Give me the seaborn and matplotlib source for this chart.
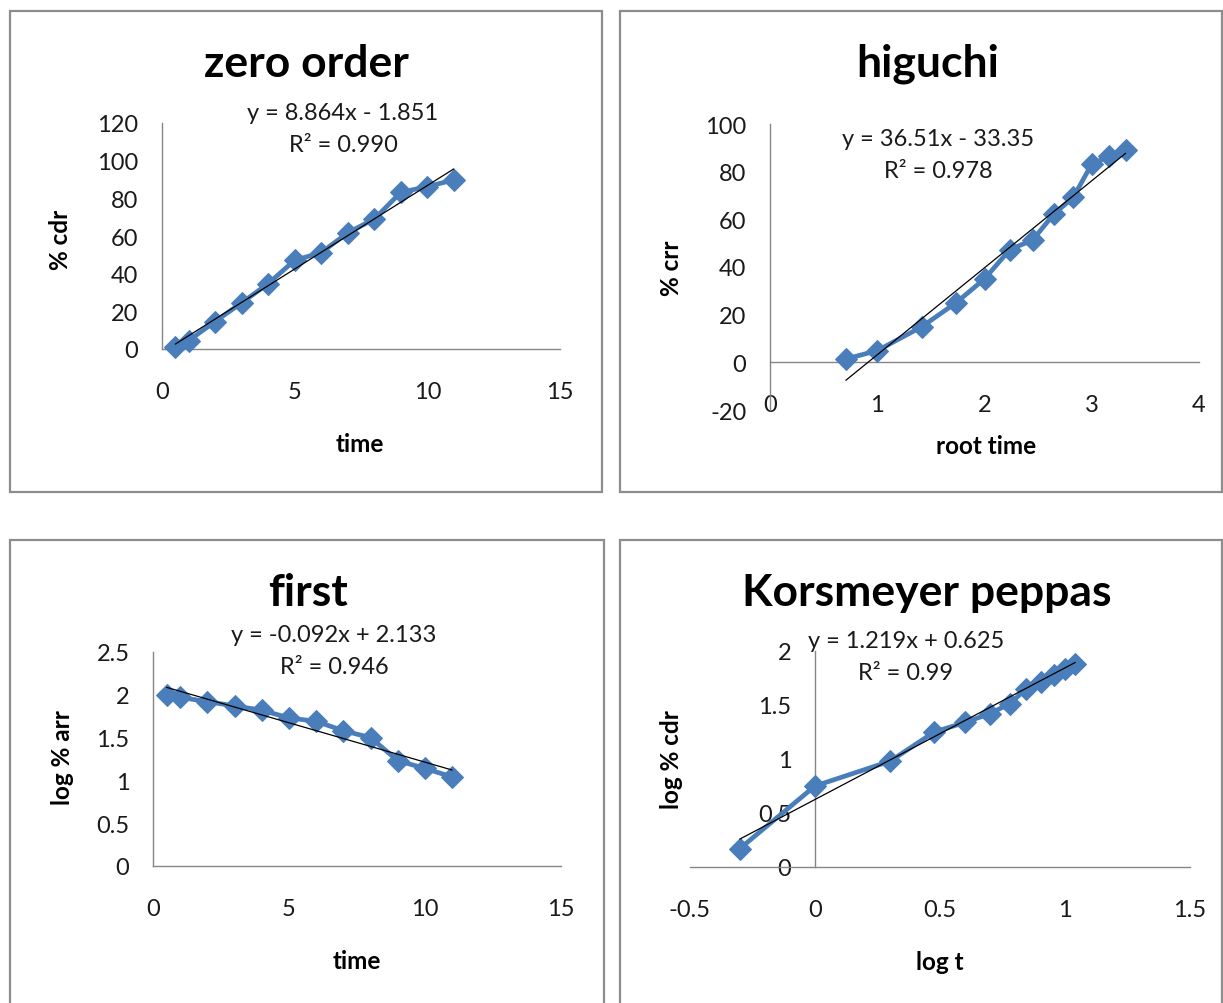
import matplotlib
matplotlib.use("Agg")
import matplotlib.pyplot as plt
from matplotlib.patches import Rectangle
import seaborn as sns
import pandas as pd

# ---- data -------------------------------------------------------------
time = [0.5, 1, 2, 3, 4, 5, 6, 7, 8, 9, 10, 11]
cdr = [1.0, 4.4, 14.6, 24.5, 34.7, 47.1, 51.2, 61.7, 69.0, 83.2, 86.2, 89.8]

root_time = [0.707, 1.0, 1.414, 1.732, 2.0, 2.236, 2.449, 2.646, 2.828, 3.0, 3.162, 3.317]
crr = [1.4, 4.9, 14.9, 24.9, 35.0, 47.3, 51.3, 62.2, 69.2, 83.2, 86.4, 89.2]

log_arr = [2.00, 1.97, 1.92, 1.87, 1.82, 1.73, 1.69, 1.58, 1.50, 1.23, 1.14, 1.04]

log_t = [-0.301, 0.0, 0.301, 0.477, 0.602, 0.699, 0.778, 0.845, 0.903, 0.954, 1.0, 1.041]
log_cdr = [0.17, 0.75, 0.98, 1.25, 1.34, 1.42, 1.51, 1.65, 1.71, 1.78, 1.83, 1.88]

# linear trendlines: slope, intercept, equation text, R² text
fit_zero = (8.864, -1.851, "y = 8.864x - 1.851", "0.990")
fit_higuchi = (36.51, -33.35, "y = 36.51x - 33.35", "0.978")
fit_first = (-0.092, 2.133, "y = -0.092x + 2.133", "0.946")
fit_peppas = (1.219, 0.625, "y = 1.219x + 0.625", "0.99")

# ---- style ------------------------------------------------------------
sns.set_style("white")
plt.rcParams["font.family"] = ["Lato", "DejaVu Sans"]

W, H = 1223, 1004
fig = plt.figure(figsize=(W / 100, H / 100), dpi=100)

BLUE = "#4A7EBB"
AXIS_GREY = "#868686"
BOX_GREY = "#8C8C8C"
TEXT = "#1a1a1a"
TICK_FS = 17
EQ_FS = 17
LABEL_FS = 17.5
TITLE_FS = 32


def fx(x):
    return x / W


def fy(y):
    return 1 - y / H


def box(x0, y0, x1, y1):
    fig.patches.append(Rectangle((fx(x0), fy(y1)), fx(x1) - fx(x0), fy(y0) - fy(y1),
                                 transform=fig.transFigure, fill=False,
                                 edgecolor=BOX_GREY, linewidth=1.6))


def fmt(v):
    return f"{v:g}"


def panel(area, xlim, ylim, xticks, yticks, x, y, fit, title, title_xy,
          eq_xy, xlabel, xlabel_xy, ylabel, ylabel_xy, xaxis_at=None, yaxis_at=None):
    x0, y0, x1, y1 = area  # pixel extents of the data limits
    ax = fig.add_axes([fx(x0), fy(y1), fx(x1) - fx(x0), fy(y0) - fy(y1)])
    ax.set_facecolor("none")
    ax.set_xlim(*xlim)
    ax.set_ylim(*ylim)

    df = pd.DataFrame({"x": x, "y": y})
    sns.lineplot(data=df, x="x", y="y", ax=ax, color=BLUE, linewidth=3.4,
                 marker="D", markersize=11, markeredgecolor=BLUE, zorder=3,
                 clip_on=False)

    slope, icpt, eq, r2 = fit
    xs = [min(x), max(x)]
    ax.plot(xs, [slope * v + icpt for v in xs], color="black", linewidth=0.9, zorder=4)

    for side in ("top", "right"):
        ax.spines[side].set_visible(False)
    for side in ("left", "bottom"):
        ax.spines[side].set_color(AXIS_GREY)
        ax.spines[side].set_linewidth(1.0)
    if xaxis_at is not None:
        ax.spines["bottom"].set_position(("data", xaxis_at))
    if yaxis_at is not None:
        ax.spines["left"].set_position(("data", yaxis_at))

    ax.set_xticks(xticks)
    ax.set_xticklabels([fmt(v) for v in xticks])
    ax.set_yticks(yticks)
    ax.set_yticklabels([fmt(v) for v in yticks])
    ax.tick_params(axis="x", length=0, pad=23, labelsize=TICK_FS, colors=TEXT)
    ax.tick_params(axis="y", length=0, pad=17, labelsize=TICK_FS, colors=TEXT)
    ax.set_xlabel("")
    ax.set_ylabel("")

    fig.text(fx(title_xy[0]), fy(title_xy[1]), title, ha="center", va="center",
             fontsize=TITLE_FS, fontweight="bold", color="black")
    fig.text(fx(eq_xy[0]), fy(eq_xy[1]), eq,
             ha="center", va="center", fontsize=EQ_FS, color=TEXT)
    fig.text(fx(eq_xy[0]), fy(eq_xy[1] + 32), f"R² = {r2}",
             ha="center", va="center", fontsize=EQ_FS, color=TEXT)
    fig.text(fx(xlabel_xy[0]), fy(xlabel_xy[1]), xlabel, ha="center", va="center",
             fontsize=LABEL_FS, fontweight="bold", color="black")
    fig.text(fx(ylabel_xy[0]), fy(ylabel_xy[1]), ylabel, ha="center", va="center",
             rotation=90, fontsize=LABEL_FS, fontweight="bold", color="black")
    return ax


# outer chart frames
box(10, 12, 602, 493)
box(620, 12, 1222, 493)
box(10, 541, 604, 1010)
box(620, 541, 1222, 1010)

panel((162, 124, 560, 350), (0, 15), (0, 120), [0, 5, 10, 15], range(0, 121, 20),
      time, cdr, fit_zero, "zero order", (306, 64), (343, 113),
      "time", (360, 445), "% cdr", (60, 240))

panel((770, 125, 1199, 411), (0, 4), (-20, 100), [0, 1, 2, 3, 4], range(-20, 101, 20),
      root_time, crr, fit_higuchi, "higuchi", (928, 64), (938, 140),
      "root time", (986, 446), "% crr", (672, 268), xaxis_at=0)

panel((153, 653, 561, 867), (0, 15), (0, 2.5), [0, 5, 10, 15], [0, 0.5, 1, 1.5, 2, 2.5],
      time, log_arr, fit_first, "first", (308, 593), (334, 636),
      "time", (357, 962), "log % arr", (62, 758))

panel((690, 652, 1190, 868), (-0.5, 1.5), (0, 2), [-0.5, 0, 0.5, 1, 1.5], [0, 0.5, 1, 1.5, 2],
      log_t, log_cdr, fit_peppas, "Korsmeyer peppas", (927, 593), (906, 642),
      "log t", (940, 963), "log % cdr", (672, 760), yaxis_at=0)

fig.savefig("out.png", dpi=100, facecolor="white")
